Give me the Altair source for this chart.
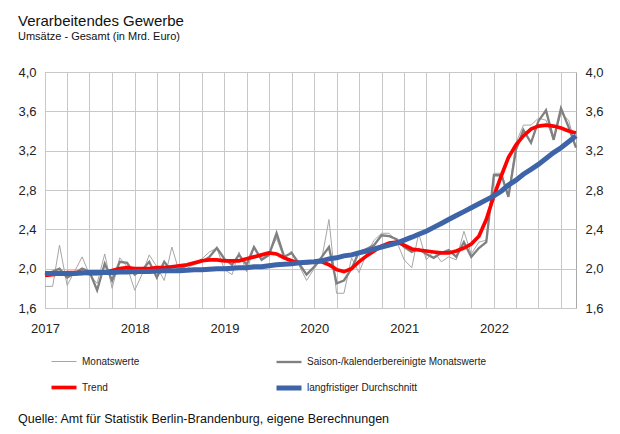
import altair as alt
import pandas as pd

# Monthly categories Jan 2017 .. Dec 2022
months = pd.date_range("2017-01-01", periods=72, freq="MS").strftime("%Y-%m-%d").tolist()

monatswerte = [
    1.82, 1.82, 2.24, 1.83, 1.97, 2.12, 1.94, 1.85, 2.15, 1.80, 2.11, 2.02,
    1.78, 1.95, 2.14, 2.02, 1.88, 2.22, 1.97, 2.00, 2.05, 2.10, 2.17, 2.21,
    1.99, 1.94, 2.17, 1.97, 2.21, 2.10, 2.15, 2.31, 2.10, 2.18, 2.03, 1.88,
    2.00, 2.10, 2.50, 1.75, 1.75, 2.11, 1.96, 2.15, 2.29, 2.36, 2.36, 2.28,
    2.09, 2.01, 2.36, 2.09, 2.18, 2.07, 2.12, 2.09, 2.38, 2.15, 2.27, 2.29,
    2.97, 2.97, 2.75, 3.28, 3.46, 3.46, 3.53, 3.51, 3.31, 3.58, 3.51, 3.23,
]
saisonbereinigt = [
    1.94, 1.97, 2.00, 1.91, 1.95, 2.00, 1.97, 1.78, 2.05, 1.88, 2.07, 2.06,
    1.94, 1.99, 2.07, 1.91, 2.07, 1.97, 2.00, 2.03, 2.05, 2.07, 2.12, 2.21,
    2.10, 2.04, 2.14, 2.04, 2.22, 2.09, 2.14, 2.36, 2.12, 2.16, 2.05, 1.94,
    2.02, 2.12, 2.22, 1.85, 1.88, 2.00, 2.17, 2.20, 2.24, 2.34, 2.33, 2.30,
    2.22, 2.17, 2.20, 2.15, 2.11, 2.16, 2.19, 2.12, 2.27, 2.12, 2.21, 2.27,
    2.95, 2.95, 2.73, 3.21, 3.41, 3.28, 3.50, 3.61, 3.31, 3.63, 3.44, 3.23,
]
trend = [
    1.93, 1.94, 1.95, 1.96, 1.96, 1.96, 1.95, 1.95, 1.96, 1.98, 2.00, 2.01,
    2.00, 2.00, 2.00, 2.01, 2.01, 2.02, 2.03, 2.04, 2.06, 2.08, 2.09, 2.09,
    2.08, 2.08, 2.08, 2.10, 2.12, 2.14, 2.16, 2.15, 2.11, 2.08, 2.06, 2.06,
    2.07, 2.07, 2.04, 1.99, 1.97, 2.00, 2.07, 2.13, 2.18, 2.23, 2.26, 2.27,
    2.24, 2.20, 2.19, 2.18, 2.17, 2.16, 2.16, 2.18, 2.21, 2.25, 2.33, 2.50,
    2.74, 2.95, 3.13, 3.26, 3.35, 3.42, 3.45, 3.46, 3.45, 3.43, 3.40, 3.38,
]
durchschnitt = [
    1.95, 1.95, 1.95, 1.95, 1.95, 1.955, 1.96, 1.96, 1.96, 1.96, 1.965, 1.965,
    1.97, 1.97, 1.97, 1.975, 1.98, 1.98, 1.98, 1.985, 1.99, 1.99, 1.995, 2.00,
    2.00, 2.005, 2.01, 2.01, 2.02, 2.02, 2.03, 2.04, 2.045, 2.05, 2.06, 2.065,
    2.07, 2.08, 2.10, 2.11, 2.13, 2.14, 2.16, 2.18, 2.20, 2.22, 2.24, 2.26,
    2.29, 2.32, 2.35, 2.38, 2.42, 2.46, 2.50, 2.54, 2.58, 2.62, 2.66, 2.70,
    2.74, 2.79, 2.85, 2.90, 2.96, 3.01, 3.06, 3.12, 3.18, 3.23, 3.29, 3.35,
]

series_names = [
    "Monatswerte",
    "Saison-/kalenderbereinigte Monatswerte",
    "Trend",
    "langfristiger Durchschnitt",
]
series_values = [monatswerte, saisonbereinigt, trend, durchschnitt]
series_colors = ["#a6a6a6", "#808080", "#ff0000", "#3d63a8"]
series_widths = [1, 5, 4, 4]
y_ticks = [1.6, 2.0, 2.4, 2.8, 3.2, 3.6, 4.0]

title_text = "Verarbeitendes Gewerbe"
subtitle_text = "Umsätze - Gesamt (in Mrd. Euro)"
source_text = "Quelle:  Amt für  Statistik Berlin-Brandenburg,  eigene  Berechnungen"

rows = []
for name, vals in zip(series_names, series_values):
    for d, v in zip(months, vals):
        rows.append({"Monat": d, "Wert": v, "Reihe": name})
df = pd.DataFrame(rows)

FONT = "Liberation Sans"
GRID = "#c8c8c8"

x_enc = alt.X(
    "Monat:T",
    scale=alt.Scale(type="utc", domain=["2017-01-01", "2022-12-01"]),
    axis=alt.Axis(
        title=None,
        tickCount={"interval": "month", "step": 3},
        labelExpr="utcmonth(datum.value) == 0 ? utcFormat(datum.value, '%Y') : ''",
        ticks=False,
        domain=False,
        grid=True,
        gridColor=GRID,
        labelFlush=False,
        labelOverlap=False,
        labelPadding=14,
        labelFontSize=13,
        labelFont=FONT,
        labelColor="#222222",
    ),
)

y_scale = alt.Scale(domain=[1.6, 4.0], nice=False, zero=False)

def y_axis(orient, grid):
    return alt.Axis(
        title=None,
        orient=orient,
        values=y_ticks,
        labelExpr="replace(format(datum.value, '.1f'), '.', ',')",
        ticks=False,
        domain=False,
        grid=grid,
        gridColor=GRID,
        labelPadding=9,
        labelFontSize=13,
        labelFont=FONT,
        labelColor="#222222",
    )

legend = alt.Legend(
    title=None,
    orient="none",
    legendX=4,
    legendY=276,
    columns=2,
    direction="horizontal",
    symbolType="stroke",
    symbolSize=625,
    labelFontSize=10,
    labelFont=FONT,
    labelColor="#222222",
    labelOffset=3,
    labelLimit=400,
    columnPadding=126,
    rowPadding=6,
)

color_enc = alt.Color(
    "Reihe:N",
    scale=alt.Scale(domain=series_names, range=series_colors),
    legend=legend,
)
width_enc = alt.StrokeWidth(
    "Reihe:N",
    scale=alt.Scale(domain=series_names, range=series_widths),
    legend=legend,
)

line_layers = [
    alt.Chart(df)
    .transform_filter(alt.datum.Reihe == name)
    .mark_line()
    .encode(
        x=x_enc,
        y=alt.Y("Wert:Q", scale=y_scale, axis=y_axis("left", True)),
        color=color_enc,
        strokeWidth=width_enc,
    )
    for name in series_names
]
lines = alt.layer(*line_layers)

right_axis = (
    alt.Chart(df)
    .transform_filter(alt.datum.Reihe == series_names[3])
    .mark_line(opacity=0)
    .encode(
        x=x_enc,
        y=alt.Y("Wert:Q", scale=y_scale, axis=y_axis("right", False)),
    )
)

def text_layer(txt, x, y, size):
    return (
        alt.Chart(pd.DataFrame({"t": [txt]}))
        .mark_text(align="left", baseline="alphabetic", font=FONT, fontSize=size, color="#111111")
        .encode(x=alt.value(x), y=alt.value(y), text="t:N")
    )

main = alt.layer(lines, right_axis).resolve_scale(y="independent")

chart = (
    alt.layer(
        main,
        text_layer(title_text, -27, -46, 15),
        text_layer(subtitle_text, -27, -32, 11),
        text_layer(source_text, -27, 351, 12.5),
    )
    .properties(
        width=531,
        height=236,
        autosize=alt.AutoSizeParams(type="none"),
        padding={"left": 37, "top": 64, "right": 36, "bottom": 118},
    )
    .configure_view(stroke="#a8a8a8", strokeWidth=1)
)

chart.save("out.html", embed_options={"renderer": "svg", "actions": False})
